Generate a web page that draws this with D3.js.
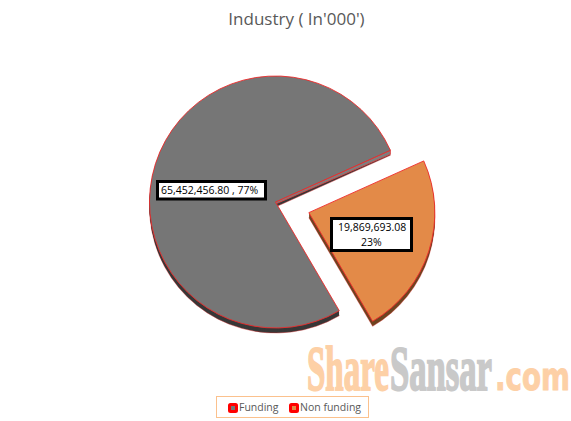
<!DOCTYPE html>
<html>
<head>
<meta charset="utf-8">
<script src="https://cdnjs.cloudflare.com/ajax/libs/d3/7.8.5/d3.min.js"></script>
<style>
    html, body { margin: 0; padding: 0; background: #fff; }
    svg { display: block; }
</style>
</head>
<body>
<div id="chart"></div>
<script>
const categories = ["Funding", "Non funding"];
const seriesValues = [65452456.80, 19869693.08];
const valueLabels = [["65,452,456.80 , 77%"], ["19,869,693.08", "23%"]];
const chartTitle = "Industry ( In'000')";

const width = 571, height = 421;
const cx = 275.5, cy = 202, radius = 126, depth = 5;
const explode = [0, 35];
const topColors = ["#767676", "#e38a48"];
const sideColors = ["#383838", "#6e4420"];
const rad = Math.PI / 180;
const labelFont = "Open Sans, sans-serif";

const svg = d3.select("#chart").append("svg")
    .attr("width", width)
    .attr("height", height);

svg.append("text")
    .attr("x", 296.5).attr("y", 25)
    .attr("text-anchor", "middle")
    .attr("font-family", labelFont)
    .attr("font-size", 17)
    .attr("fill", "#595959")
    .text(chartTitle);

// watermark: squeeze each word horizontally to the width it has in the picture
function markWord(txt, x, w, family, size, color, sw) {
    const t = svg.append("text")
        .attr("font-family", family).attr("font-size", size)
        .attr("font-weight", "bold")
        .attr("fill", color).attr("stroke", color).attr("stroke-width", sw)
        .text(txt);
    const natural = t.node().getComputedTextLength();
    t.attr("transform", `translate(${x},390) scale(${w / natural},1)`);
}
markWord("Share", 307, 82, "Liberation Serif, serif", 64, "#fdd0a6", 2);
markWord("Sansar", 390, 102, "Liberation Serif, serif", 64, "#c9c9c9", 2);
markWord(".com", 495, 75, "DejaVu Sans, sans-serif", 39, "#fdd0a6", 1);

const pie = d3.pie().sort(null)
    .startAngle(149.6 * rad)
    .endAngle((149.6 + 360) * rad);
const arc = d3.arc().innerRadius(0).outerRadius(radius);
const arcs = pie(seriesValues);

const slices = svg.append("g").selectAll("g")
    .data(arcs)
    .join("g")
    .attr("transform", (d, i) => {
        const mid = (d.startAngle + d.endAngle) / 2;
        return `translate(${cx + explode[i] * Math.sin(mid)},${cy - explode[i] * Math.cos(mid)})`;
    });

// side wall: the same wedge repeated downwards
slices.each(function (d, i) {
    const g = d3.select(this);
    d3.range(depth, 0, -1).forEach(k => {
        g.append("path")
            .attr("d", arc(d))
            .attr("transform", `translate(0,${k})`)
            .attr("fill", sideColors[i])
            .attr("stroke", k === depth ? "#e03030" : "none")
            .attr("stroke-opacity", 0.5)
            .attr("stroke-width", 0.8);
    });
});

// the cut face of the big slice catches the light, so it stays grey
slices.filter((d, i) => i === 0).append("path")
    .attr("d", d => {
        const ex = radius * Math.sin(d.endAngle), ey = -radius * Math.cos(d.endAngle);
        return `M0,0L${ex},${ey}L${ex},${ey + 4}L0,2Z`;
    })
    .attr("fill", "#7e7e7e")
    .attr("stroke", "#e84040")
    .attr("stroke-width", 0.8);

slices.append("path")
    .attr("d", d => arc(d))
    .attr("fill", (d, i) => topColors[i])
    .attr("stroke", "#ee2a2a")
    .attr("stroke-width", 0.9)
    .attr("stroke-linejoin", "round");

// data label boxes
const boxes = [
    { x: 157.5, y: 181.5, w: 108, h: 17.5 },
    { x: 331.5, y: 218.5, w: 80, h: 32 }
];
boxes.forEach(b => {
    svg.append("rect")
        .attr("x", b.x).attr("y", b.y)
        .attr("width", b.w).attr("height", b.h)
        .attr("fill", "#fff").attr("stroke", "#000").attr("stroke-width", 3);
});
function boxText(txt, x, y) {
    svg.append("text").attr("x", x).attr("y", y)
        .attr("font-family", labelFont).attr("font-size", 10.5).attr("fill", "#000")
        .text(txt);
}
boxText(valueLabels[0][0], 161, 194);
boxText(valueLabels[1][0], 338, 231);
boxText(valueLabels[1][1], 361, 246);

// legend
const legend = svg.append("g");
legend.append("rect")
    .attr("x", 216.5).attr("y", 396.5)
    .attr("width", 152).attr("height", 21)
    .attr("fill", "#fff").attr("stroke", "#fbc18d");
const legendX = [228, 289];
categories.forEach((c, i) => {
    legend.append("rect")
        .attr("x", legendX[i] + 1.5).attr("y", 404.5)
        .attr("width", 7).attr("height", 7).attr("rx", 1)
        .attr("fill", topColors[i]).attr("stroke", "#f00").attr("stroke-width", 3);
    legend.append("text")
        .attr("x", legendX[i] + 11).attr("y", 411)
        .attr("font-family", labelFont)
        .attr("font-size", 10.5)
        .attr("fill", "#595959")
        .text(c);
});
</script>
</body>
</html>
